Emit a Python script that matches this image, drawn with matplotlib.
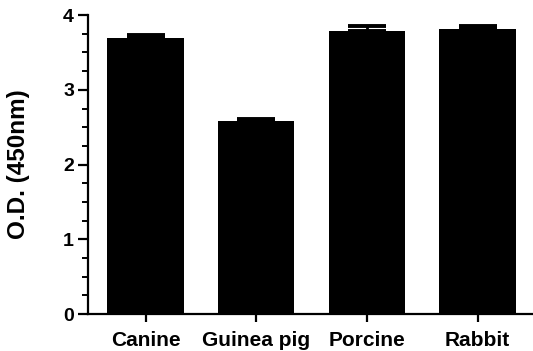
import matplotlib
matplotlib.use("Agg")
import matplotlib.pyplot as plt
from matplotlib.ticker import MultipleLocator

plt.rcParams["font.family"] = ["Liberation Sans", "DejaVu Sans"]
plt.rcParams["font.weight"] = "bold"

species = ["Canine", "Guinea pig", "Porcine", "Rabbit"]
od_mean = [3.69, 2.58, 3.79, 3.81]
od_err = [0.05, 0.03, 0.06, 0.04]

fig = plt.figure(figsize=(5.33, 3.51), dpi=100)
ax = fig.add_axes([0.165, 0.105, 0.835, 0.852])

x = range(len(species))
ax.bar(x, od_mean, width=0.69, color="black", zorder=2)
ax.errorbar(x, od_mean, yerr=[[0] * len(od_err), od_err], fmt="none",
            ecolor="black", elinewidth=2, capsize=13.5, capthick=2.8, zorder=3)

ax.set_xlim(-0.52, 3.5)
ax.set_ylim(0, 4)
ax.set_xticks(list(x))
ax.set_xticklabels(species, fontsize=15, fontweight="bold")
ax.yaxis.set_major_locator(MultipleLocator(1))
ax.yaxis.set_minor_locator(MultipleLocator(0.25))
ax.tick_params(axis="y", which="major", length=7, width=1.6, labelsize=14, pad=3)
ax.tick_params(axis="y", which="minor", length=4, width=1.4)
ax.tick_params(axis="x", length=6, width=1.6, pad=6)
for lab in ax.get_yticklabels():
    lab.set_fontweight("bold")
ax.set_ylabel("O.D. (450nm)", fontsize=17.5, fontweight="bold", labelpad=24)

for s in ["top", "right"]:
    ax.spines[s].set_visible(False)
for s in ["left", "bottom"]:
    ax.spines[s].set_linewidth(1.6)

fig.savefig("out.png", dpi=100, facecolor="white")
